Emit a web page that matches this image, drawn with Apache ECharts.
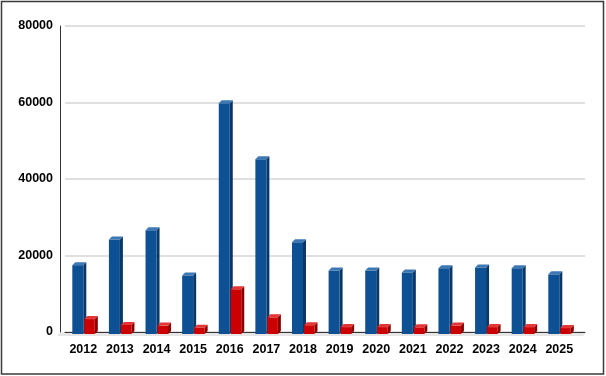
<!DOCTYPE html>
<html>
<head>
<meta charset="utf-8">
<script src="https://cdn.jsdelivr.net/npm/echarts@6/dist/echarts.min.js"></script>
<style>
  html, body { margin: 0; padding: 0; background: #fff; }
  #chart { width: 606px; height: 376px; }
</style>
</head>
<body>
<div id="chart"></div>
<script>
// values
const years = ['2012', '2013', '2014', '2015', '2016', '2017', '2018', '2019', '2020', '2021', '2022', '2023', '2024', '2025']
const blueValues = [18000, 24700, 27100, 15300, 60300, 45700, 24000, 16600, 16600, 16100, 17200, 17400, 17200, 15600]
const redValues = [3900, 2350, 2200, 1650, 11700, 4350, 2300, 1800, 1800, 1750, 2200, 1800, 1800, 1550]
const yMax = 80000
const yStep = 20000

const DEPTH = 3

// draws one bar as front face + side + top, like the old 3d column look
function bar3d(front, top, side, x0, x1) {
    return (params, api) => {
        const base = api.coord([api.value(0), 0])
        const peak = api.coord([api.value(0), api.value(1)])
        const l = base[0] + x0
        const r = base[0] + x1
        const b = base[1]
        const t = peak[1]
        return {
            type: 'group',
            children: [
                {
                    type: 'polygon',
                    shape: { points: [[r, b], [r + DEPTH, b - DEPTH], [r + DEPTH, t - DEPTH], [r, t]] },
                    style: { fill: side },
                },
                {
                    type: 'rect',
                    shape: { x: l, y: t, width: r - l, height: b - t },
                    style: { fill: front },
                },
                {
                    type: 'polygon',
                    shape: { points: [[l, t], [l + DEPTH, t - DEPTH], [r + DEPTH, t - DEPTH], [r, t]] },
                    style: { fill: top },
                },
            ],
        }
    }
}

const labelFont = {
    fontFamily: '"Liberation Sans", Arial, sans-serif',
    fontWeight: 'bold',
    fontSize: 12.5,
    color: '#000',
}

const chart = echarts.init(document.getElementById('chart'))

chart.setOption({
    animation: false,
    grid: [
        // back wall: gridlines and value labels
        { left: 65, right: 21, top: 26, bottom: 44 },
        // front: bars and year labels
        { left: 65, right: 28.4, top: 28, bottom: 42 },
    ],
    xAxis: [
        {
            gridIndex: 0,
            type: 'category',
            data: years,
            axisLine: { show: true, lineStyle: { color: '#333', width: 1 } },
            axisTick: { show: false },
            axisLabel: { show: false },
        },
        {
            gridIndex: 1,
            type: 'category',
            data: years,
            axisLine: { show: false },
            axisTick: { show: false },
            axisLabel: { ...labelFont, margin: 9 },
        },
    ],
    yAxis: [
        {
            gridIndex: 0,
            type: 'value',
            min: 0,
            max: yMax,
            interval: yStep,
            offset: 5,
            axisLine: { show: true, lineStyle: { color: '#333', width: 1 } },
            axisTick: { show: false },
            axisLabel: { ...labelFont, margin: 7, formatter: (v) => String(v) },
            splitLine: { lineStyle: { color: '#d6d6d6', width: 1.5 } },
        },
        {
            gridIndex: 1,
            type: 'value',
            min: 0,
            max: yMax,
            show: false,
            splitLine: { show: false },
        },
    ],
    graphic: [
        {
            type: 'polygon',
            z: 0,
            shape: { points: [[60, 332.5], [586, 332.5], [583, 336], [57, 336]] },
            style: { fill: '#e6e6e6' },
        },
        {
            type: 'rect',
            z: 0,
            shape: { x: 1.5, y: 1.5, width: 602, height: 372.5 },
            style: { fill: 'none', stroke: '#3a3a3a', lineWidth: 1.5 },
        },
    ],
    series: [
        {
            name: 'blue',
            type: 'custom',
            xAxisIndex: 1,
            yAxisIndex: 1,
            z: 3,
            renderItem: bar3d('#0d5093', '#3d78b4', '#0a3766', -11, 0),
            encode: { x: 0, y: 1 },
            data: years.map((y, i) => [i, blueValues[i]]),
        },
        {
            name: 'red',
            type: 'custom',
            xAxisIndex: 1,
            yAxisIndex: 1,
            z: 4,
            renderItem: bar3d('#cc0000', '#e53535', '#8a0000', 1, 11.5),
            encode: { x: 0, y: 1 },
            data: years.map((y, i) => [i, redValues[i]]),
        },
    ],
})
</script>
</body>
</html>
